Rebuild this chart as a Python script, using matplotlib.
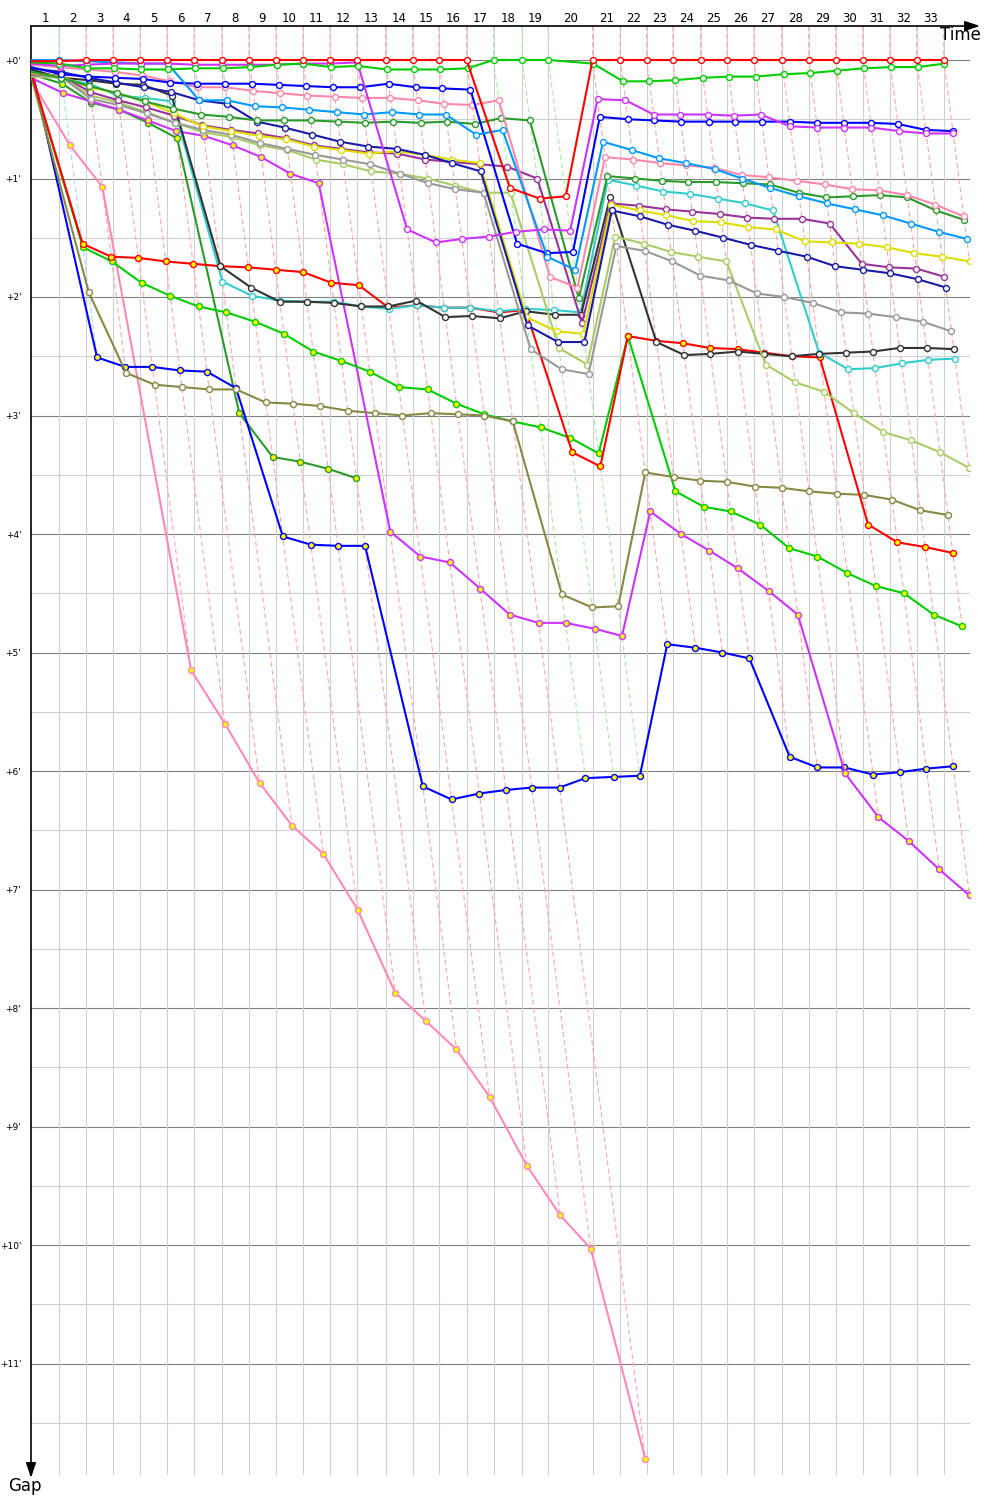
import matplotlib
matplotlib.use("Agg")
import matplotlib.pyplot as plt
from matplotlib.colors import to_rgb

# leader lap durations (seconds), laps 1..33
lap_secs = [111, 107, 107, 107, 107, 107, 110, 107, 107, 107, 107, 107, 113, 107, 104, 110,
            107, 113, 104, 175, 110, 104, 104, 110, 104, 107, 110, 107, 107, 107, 107, 107, 107]

# gap to the leader in minutes, one value per completed lap
red = [0.01, 0, 0, 0, 0, 0, 0, 0, 0, 0, 0, 0, 0, 0, 0, 0, 1.08, 1.17, 1.15,
       0, 0, 0, 0, 0, 0, 0, 0, 0, 0, 0, 0, 0, 0]
green = [0.03, 0.07, 0.07, 0.08, 0.08, 0.07, 0.07, 0.06, 0.04, 0.03, 0.06, 0.05, 0.08, 0.08,
         0.08, 0.07, 0, 0, 0, 0.03, 0.18, 0.18, 0.17, 0.15, 0.14, 0.14, 0.12, 0.11, 0.09,
         0.07, 0.06, 0.06, 0.03]
violet = [0.05, 0.04, 0.03, 0.03, 0.03, 0.04, 0.04, 0.04, 0.04, 0.03, 0.03, 0.02, 1.43, 1.54,
          1.51, 1.49, 1.45, 1.43, 1.44, 0.33, 0.34, 0.46, 0.46, 0.46, 0.47, 0.46, 0.56, 0.57,
          0.57, 0.57, 0.60, 0.62, 0.62]
skyblue = [0.0, 0.01, 0.02, 0.03, 0.03, 0.34, 0.34, 0.39, 0.40, 0.42, 0.44, 0.46, 0.44, 0.46,
           0.46, 0.63, 0.59, 1.66, 1.77, 0.69, 0.76, 0.83, 0.87, 0.92, 1.00, 1.08, 1.15, 1.21,
           1.26, 1.31, 1.38, 1.45, 1.51]
blue = [0.12, 0.14, 0.15, 0.16, 0.19, 0.20, 0.20, 0.20, 0.21, 0.22, 0.23, 0.23, 0.20, 0.23,
        0.24, 0.25, 1.55, 1.63, 1.62, 0.48, 0.50, 0.51, 0.52, 0.52, 0.52, 0.52, 0.52, 0.53,
        0.53, 0.53, 0.54, 0.59, 0.60]
pink = [0.06, 0.08, 0.10, 0.13, 0.18, 0.23, 0.23, 0.26, 0.28, 0.30, 0.31, 0.32, 0.32, 0.34,
        0.37, 0.38, 0.34, 1.83, 1.92, 0.82, 0.84, 0.87, 0.89, 0.91, 0.97, 0.99, 1.02, 1.05,
        1.09, 1.10, 1.14, 1.22, 1.32]
forest = [0.15, 0.22, 0.28, 0.35, 0.41, 0.46, 0.48, 0.51, 0.51, 0.51, 0.52, 0.53, 0.52, 0.53,
          0.52, 0.54, 0.49, 0.51, 2.01, 0.98, 1.00, 1.02, 1.03, 1.03, 1.04, 1.05, 1.12, 1.16,
          1.15, 1.14, 1.16, 1.27, 1.35]
navy = [0.10, 0.15, 0.19, 0.23, 0.27, 0.34, 0.37, 0.52, 0.57, 0.63, 0.69, 0.73, 0.75, 0.80,
        0.87, 0.94, 2.24, 2.38, 2.38, 1.27, 1.32, 1.39, 1.44, 1.50, 1.56, 1.61, 1.66, 1.74,
        1.77, 1.80, 1.85, 1.92]
yellow = [0.14, 0.23, 0.28, 0.35, 0.45, 0.56, 0.60, 0.64, 0.67, 0.73, 0.76, 0.79, 0.77, 0.80,
          0.84, 0.87, 2.17, 2.29, 2.31, 1.22, 1.27, 1.31, 1.36, 1.37, 1.41, 1.43, 1.53, 1.54,
          1.55, 1.58, 1.63, 1.66, 1.70]
purple = [0.13, 0.27, 0.34, 0.40, 0.47, 0.55, 0.59, 0.62, 0.66, 0.72, 0.75, 0.78, 0.79, 0.84,
          0.86, 0.88, 0.90, 1.00, 2.22, 1.21, 1.23, 1.26, 1.28, 1.30, 1.33, 1.34, 1.34, 1.38,
          1.72, 1.75, 1.76, 1.83]
gray = [0.14, 0.33, 0.38, 0.45, 0.53, 0.59, 0.63, 0.70, 0.75, 0.80, 0.84, 0.88, 0.96, 1.04,
        1.09, 1.12, 2.44, 2.61, 2.65, 1.57, 1.61, 1.70, 1.82, 1.86, 1.97, 2.00, 2.05, 2.13,
        2.14, 2.17, 2.21, 2.29]
lime = [0.15, 0.30, 0.36, 0.44, 0.53, 0.61, 0.65, 0.72, 0.76, 0.84, 0.88, 0.94, 0.96, 1.00,
        1.06, 1.12, 1.12, 2.43, 2.57, 1.49, 1.55, 1.62, 1.66, 1.70, 2.57, 2.72, 2.80, 2.98,
        3.14, 3.21, 3.31, 3.44]
black = [0.15, 0.17, 0.20, 0.21, 0.30, 1.74, 1.92, 2.04, 2.04, 2.05, 2.08, 2.08, 2.03, 2.17,
         2.16, 2.18, 2.12, 2.15, 2.15, 1.16, 2.38, 2.49, 2.48, 2.46, 2.48, 2.50, 2.48, 2.47,
         2.46, 2.43, 2.43, 2.44]
teal = [0.16, 0.20, 0.30, 0.32, 0.35, 1.87, 1.99, 2.03, 2.04, 2.04, 2.08, 2.10, 2.07, 2.09,
        2.09, 2.12, 2.10, 2.11, 2.13, 1.01, 1.06, 1.11, 1.13, 1.17, 1.21, 1.27, 2.47, 2.61,
        2.60, 2.56, 2.53, 2.52]
red2 = [1.55, 1.66, 1.67, 1.70, 1.72, 1.74, 1.75, 1.77, 1.79, 1.88, 1.90, 2.09, 2.07, 2.09,
        2.09, 2.13, 2.11, 3.31, 3.43, 2.33, 2.37, 2.39, 2.43, 2.44, 2.47, 2.50, 2.51, 3.92,
        4.07, 4.11, 4.16]
olive = [1.96, 2.64, 2.74, 2.76, 2.78, 2.78, 2.89, 2.90, 2.92, 2.96, 2.98, 3.00, 2.98, 2.99,
         3.00, 3.05, 4.51, 4.62, 4.61, 3.48, 3.52, 3.55, 3.56, 3.60, 3.61, 3.64, 3.66, 3.67,
         3.71, 3.80, 3.84]
green2 = [1.58, 1.70, 1.88, 1.99, 2.08, 2.13, 2.21, 2.31, 2.46, 2.54, 2.63, 2.76, 2.78, 2.90,
          2.99, 3.05, 3.10, 3.19, 3.32, 2.33, 3.64, 3.77, 3.81, 3.92, 4.12, 4.19, 4.33, 4.44,
          4.50, 4.68, 4.78]
violet2 = [0.28, 0.35, 0.42, 0.51, 0.60, 0.64, 0.72, 0.82, 0.96, 1.04, 3.98, 4.19, 4.24, 4.46,
           4.68, 4.75, 4.75, 4.80, 4.86, 3.81, 4.00, 4.14, 4.29, 4.48, 4.68, 6.02, 6.39, 6.59,
           6.83, 7.05]
blue2 = [2.51, 2.59, 2.59, 2.62, 2.63, 2.77, 4.02, 4.09, 4.10, 4.10, 6.13, 6.24, 6.19, 6.16,
         6.14, 6.14, 6.06, 6.05, 6.04, 4.93, 4.96, 5.00, 5.05, 5.88, 5.97, 5.97, 6.03, 6.01,
         5.98, 5.96]
forest2 = [0.20, 0.36, 0.42, 0.53, 0.66, 2.98, 3.35, 3.39, 3.45, 3.53]
pink2 = [0.72, 1.07, 5.15, 5.60, 6.10, 6.46, 6.70, 7.17, 7.87, 8.11, 8.35, 8.75, 9.33, 9.75,
         10.03, 11.81]

# (colour, gap at the start, gaps, laps with yellow markers as (first, last) or None)
cars = [
    ("#ff88bb", 0.17, pink2, (1, 99)),
    ("#2a9a2a", 0.12, forest2, (1, 99)),
    ("#0000ff", 0.05, blue2, (1, 99)),
    ("#cc33ff", 0.15, violet2, (1, 99)),
    ("#00cc00", 0.11, green2, (1, 99)),
    ("#888844", 0.13, olive, None),
    ("#ff0000", 0.10, red2, (1, 99)),
    ("#33cccc", 0.09, teal, None),
    ("#333333", 0.08, black, None),
    ("#aacc66", 0.14, lime, None),
    ("#999999", 0.13, gray, None),
    ("#993399", 0.12, purple, None),
    ("#dddd00", 0.11, yellow, None),
    ("#1a1aa6", 0.07, navy, None),
    ("#2a9a2a", 0.10, forest, None),
    ("#ff88aa", 0.04, pink, None),
    ("#0000ff", 0.06, blue, None),
    ("#0099ff", 0.00, skyblue, (1, 5)),
    ("#cc33ff", 0.03, violet, None),
    ("#00cc00", 0.02, green, None),
    ("#ff0000", 0.01, red, None),
]

# leader's cumulative time in minutes at each lap
lead_t = []
total = 0
for s in lap_secs:
    total += s
    lead_t.append(total / 60)

PX_X = 15.15   # pixels per minute on the time axis
PX_Y = 118.5   # pixels per minute on the gap axis
x_max = (970 - 31) / PX_X
y_top = (26 - 60) / PX_Y
y_bot = (1475 - 60) / PX_Y

fig = plt.figure(figsize=(10, 15), dpi=100)
ax = fig.add_axes([31 / 1000, 1 - 1475 / 1500, (970 - 31) / 1000, (1475 - 26) / 1500])
ax.set_xlim(0, x_max)
ax.set_ylim(y_bot, y_top)
for sp in ax.spines.values():
    sp.set_visible(False)
ax.set_xticks([])

# horizontal grid, full minutes darker
for i in range(24):
    g = i / 2
    if g > y_bot:
        break
    ax.axhline(g, color="#808080" if i % 2 == 0 else "#d0d0d0", lw=0.8, zorder=1)
for t in lead_t:
    ax.axvline(t, color="#d0d0d0", lw=0.8, zorder=1)

ax.set_yticks(range(12), labels=["+%d'" % i for i in range(12)])
ax.tick_params(axis="y", length=0, pad=7, labelsize=6.5)

# lap lines: leader crossing, then slanted through every car on that lap
for k, t in enumerate(lead_t):
    on_lap = [(c, gaps[k]) for c, _, gaps, _ in cars if len(gaps) > k]
    leader_col = min(on_lap, key=lambda p: p[1])[0]
    gmax = max(g for _, g in on_lap)
    light = tuple(0.35 * v + 0.65 for v in to_rgb(leader_col))
    ax.plot([t, t, t + gmax], [y_top, 0, gmax], color=light, lw=0.8,
            dashes=(4.5, 2.8), zorder=1.5)

# cars
for z, (col, g0, gaps, yel) in enumerate(cars):
    xs = [0] + [lead_t[k] + g for k, g in enumerate(gaps)]
    ys = [g0] + list(gaps)
    ax.plot(xs, ys, color=col, lw=1.5, zorder=3 + z * 0.01, solid_joinstyle="round")
    for k in range(len(gaps)):
        lap = k + 1
        face = "white"
        if yel is not None and yel[0] <= lap <= yel[1]:
            face = "#ffff00"
        ax.plot(xs[k + 1], ys[k + 1], "o", ms=4.3, mfc=face, mec=col, mew=1.0,
                zorder=3.005 + z * 0.01)

# lap numbers above the time axis
prev = 0
for k, t in enumerate(lead_t):
    ax.text((prev + t) / 2, (18 - 60) / PX_Y, str(k + 1), ha="center", va="center",
            fontsize=8.5, clip_on=False)
    prev = t

# axis arrows
ax.annotate("", xy=(980, 1500 - 26), xytext=(31, 1500 - 26), xycoords="figure pixels",
            textcoords="figure pixels",
            arrowprops=dict(arrowstyle="-|>,head_length=0.9,head_width=0.3", color="black",
                            lw=1.2, shrinkA=0, shrinkB=0))
ax.annotate("", xy=(31, 1500 - 1478), xytext=(31, 1500 - 26), xycoords="figure pixels",
            textcoords="figure pixels",
            arrowprops=dict(arrowstyle="-|>,head_length=0.9,head_width=0.3", color="black",
                            lw=1.2, shrinkA=0, shrinkB=0))
fig.text(960 / 1000, 1 - 35 / 1500, "Time", ha="center", va="center", fontsize=12)
fig.text(25 / 1000, 1 - 1486 / 1500, "Gap", ha="center", va="center", fontsize=12)

fig.savefig("out.png", dpi=100)
